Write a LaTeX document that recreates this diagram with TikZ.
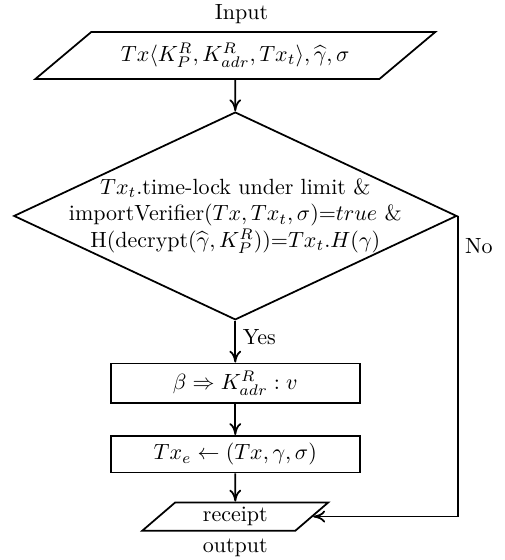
\documentclass[tikz,border=0pt]{standalone}
\usepackage{tikz}
\usetikzlibrary{positioning,arrows.meta,calc,shapes.geometric}
\tikzset{
  io/.style={trapezium, trapezium left angle=40, trapezium right angle=140,
             trapezium stretches body, draw, thick, inner sep=2pt},
  decision/.style={diamond, draw, thick, minimum width=7.08cm, minimum height=3.32cm,
                   inner sep=0pt},
  cond/.style={align=center, inner sep=0pt},
  proc/.style={rectangle, draw, thick, minimum width=3.98cm},
  flow/.style={-{To[length=1.9mm, width=1.9mm]}, thick},
  lbl/.style={inner sep=3pt}
}

\begin{document}
\begin{tikzpicture}[]
\useasboundingbox (0,0) rectangle (8.07,-8.95);
\node (inp) [io, trapezium left angle=31, trapezium right angle=149, minimum width=6.39cm, minimum height=0.75cm, label={[name=inlbl, xshift=0.1cm]above:Input}, at={(3.76,-0.888)}] {$Tx\langle K_P^R, K_{adr}^R, Tx_t\rangle, \widehat{\gamma}, \sigma$};
\node (chk) [decision, anchor=north, at={($(inp.south)+(0,-0.5)$)}] {};
\node (chktxt) [cond, at={(chk.center)}] {$Tx_t$.time-lock under limit \&\\
  importVerifier$(Tx, Tx_t, \sigma)$=$true$ \&\\
  H(decrypt($\widehat{\gamma}, K_P^R$))=$Tx_t.H(\gamma)$};
\node (act1) [proc, anchor=north, at={($(chk.south)+(0,-0.67)$)}] {$\beta \Rightarrow K_{adr}^R : v$};
\node (act2) [proc, anchor=north, at={($(act1.south)+(0,-0.5)$)}] {$Tx_e \leftarrow (Tx, \gamma, \sigma)$};
\node (out) [io, minimum width=2.97cm, minimum height=0.45cm, label={[name=outlbl]below:output}, anchor=north, at={($(act2.south)+(0,-0.45)$)}] {receipt};
\draw[flow] (inp) -- (chk);
\draw[flow] (chk.south) -- node[lbl, right, pos=0.4] (yeslbl) {Yes} (act1.north);
\draw[flow] (act1) -- (act2);
\draw[flow] (act2) -- (out);
\draw[flow] (chk.east) |- node[lbl, right, pos=0.05] (nolbl) {No} (out.east);
\end{tikzpicture}
\end{document}
